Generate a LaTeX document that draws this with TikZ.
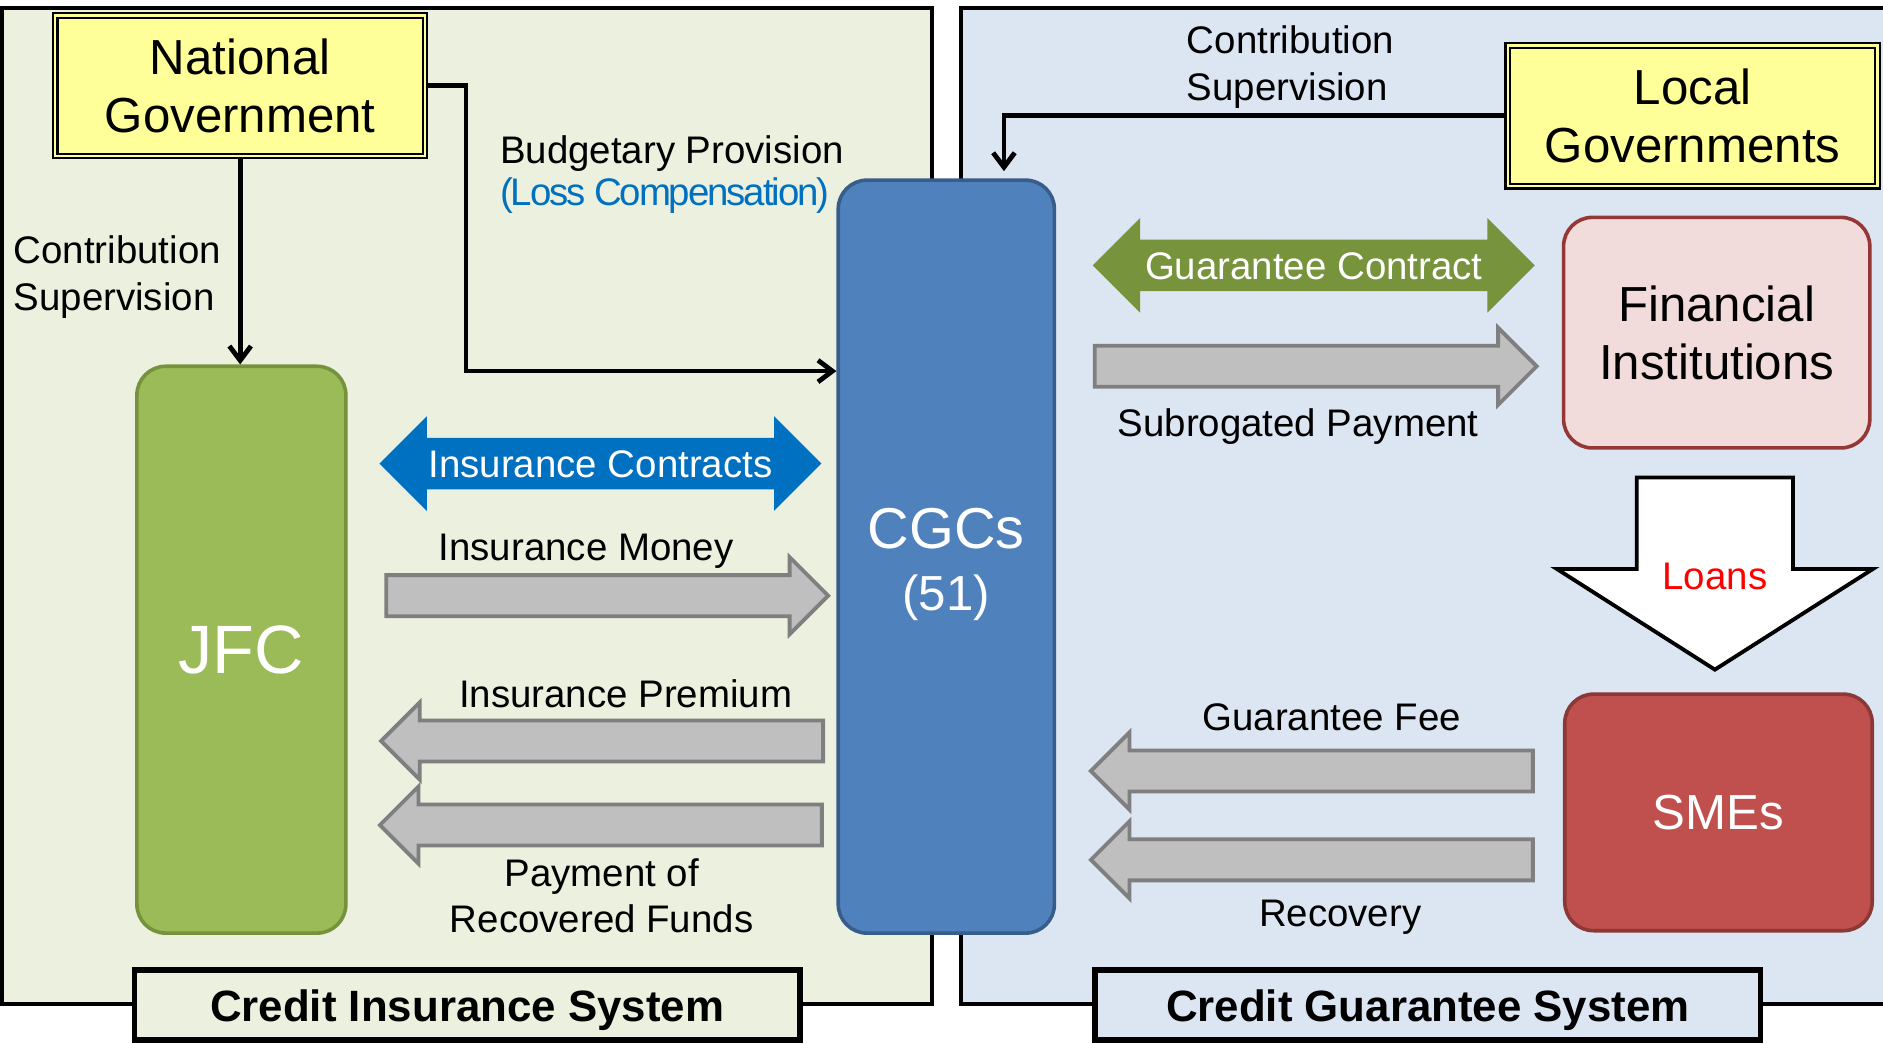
\documentclass[tikz,border=0pt]{standalone}
\usepackage{fontspec}
\setmainfont{Liberation Sans}
\usetikzlibrary{arrows.meta, shapes.arrows}

\definecolor{cisbg}{HTML}{EBF1DE}
\definecolor{cgsbg}{HTML}{DCE6F2}
\definecolor{govyellow}{HTML}{FFFF99}
\definecolor{jfcgreen}{HTML}{9BBB59}
\definecolor{jfcedge}{HTML}{76923C}
\definecolor{cgcblue}{HTML}{4F81BD}
\definecolor{cgcedge}{HTML}{385D8A}
\definecolor{finpink}{HTML}{F2DCDB}
\definecolor{finedge}{HTML}{953735}
\definecolor{smered}{HTML}{C0504D}
\definecolor{smeedge}{HTML}{8C3836}
\definecolor{insblue}{HTML}{0070C0}
\definecolor{guargreen}{HTML}{77933C}
\definecolor{flowgray}{HTML}{BFBFBF}
\definecolor{flowedge}{HTML}{7F7F7F}

\tikzset{
  lbl/.style={font=\fontsize{16}{19.5}\selectfont, align=center, inner sep=0pt},
  gov/.style={draw=black, double=govyellow, double distance=1pt, line width=0.9pt,
    fill=govyellow, minimum width=154pt, minimum height=58.5pt, align=center,
    inner sep=0pt, font=\fontsize{20.5}{24}\selectfont},
  entity/.style={rounded corners=12pt, line width=1.5pt, align=center, inner sep=0pt},
  conn/.style={line width=2pt, -{Straight Barb[length=6pt,width=9pt]}},
  flow/.style={single arrow, draw=flowedge, fill=flowgray, line width=1.6pt,
    inner xsep=0pt, inner ysep=7.75pt, text height=0pt, text depth=0pt,
    single arrow head extend=7.5pt, minimum height=184pt},
  contract/.style={double arrow, text=white, font=\fontsize{16}{19.5}\selectfont,
    inner xsep=0pt, inner ysep=4.75pt, text height=11.5pt, text depth=0pt,
    double arrow head extend=9pt, minimum height=184pt},
  sysbox/.style={draw=black, line width=2.4pt, minimum width=277pt, minimum height=29pt,
    inner sep=0pt, text depth=0pt, font=\bfseries\fontsize{18.25}{22}\selectfont}
}

\begin{document}
\begin{tikzpicture}[x=0.5pt, y=-0.5pt]
  \useasboundingbox (0,0) rectangle (1568,869);

  % Panels
  \draw[line width=1.6pt, fill=cisbg] (2,7) rectangle (776,836);
  \draw[line width=1.6pt, fill=cgsbg] (800,7) rectangle (1600,836);

  % Governments
  \node[gov] (natgov) at (200,71.5) {National\\Government};
  \node[gov] (locgov) at (1409.5,96.5) {Local\\Governments};

  % Institutions
  \node[entity, fill=jfcgreen, draw=jfcedge, text=white, minimum width=87pt,
    minimum height=236pt, font=\fontsize{28.5}{34}\selectfont] (jfc) at (201,541) {JFC};
  \node[entity, fill=cgcblue, draw=cgcedge, minimum width=90pt, minimum height=313.5pt]
    (cgc) at (788,463.5) {};
  \node[lbl, text=white, font=\fontsize{24}{26}\selectfont] (cgctxt) at (788,470)
    {CGCs\\\fontsize{20.5}{24}\selectfont(51)};
  \node[entity, fill=finpink, draw=finedge, minimum width=127.5pt, minimum height=96pt,
    font=\fontsize{20.5}{24}\selectfont] (fin) at (1429.5,277) {Financial\\Institutions};
  \node[entity, fill=smered, draw=smeedge, text=white, minimum width=128pt,
    minimum height=98.5pt, font=\fontsize{20.5}{24}\selectfont] (sme) at (1431,676.5) {SMEs};

  % Contribution and budget lines
  \draw[conn] (natgov.south) -- (natgov.south |- jfc.north);
  \coordinate (budget) at (388,309);
  \draw[conn] (natgov.east) -| (budget) -- (budget -| cgc.west);
  \draw[conn, shorten >=3pt] (locgov.west) -| ([xshift=24pt]cgc.north);

  \node[lbl, align=left, anchor=west] (natcontr) at (11,231) {Contribution\\Supervision};
  \node[lbl, align=left, anchor=west, font=\fontsize{16}{17.5}\selectfont] (budtxt) at (416,145.5)
    {Budgetary Provision\\\textcolor{insblue}{\addfontfeatures{LetterSpace=-5.5}(Loss Compensation)}};
  \node[lbl, align=left, anchor=west] (loccontr) at (988,55.5) {Contribution\\Supervision};

  % Credit insurance flows
  \node[contract, fill=insblue] (inscon) at (500,386) {Insurance Contracts};
  \node[flow, anchor=tail] (money) at (320,496) {};
  \node[flow, anchor=tail, shape border rotate=180] (premium) at (687,617) {};
  \node[flow, anchor=tail, shape border rotate=180] (refund) at (686,687) {};
  \node[lbl] (moneytxt) at (488,459) {Insurance Money};
  \node[lbl] (premtxt) at (521,578) {Insurance Premium};
  \node[lbl, font=\fontsize{16}{19}\selectfont] (refundtxt) at (501,746) {Payment of\\Recovered Funds};

  % Credit guarantee flows
  \node[contract, fill=guargreen] (guarcon) at (1094,221) {Guarantee Contract};
  \node[flow, anchor=tail] (subrog) at (910,305) {};
  \node[flow, anchor=tail, shape border rotate=180] (fee) at (1278,642) {};
  \node[flow, anchor=tail, shape border rotate=180] (recovery) at (1278,716) {};
  \node[lbl] (subrogtxt) at (1081,355) {Subrogated Payment};
  \node[lbl] (feetxt) at (1109,597) {Guarantee Fee};
  \node[lbl] (recovtxt) at (1116,764) {Recovery};

  % Loans
  \node[single arrow, shape border rotate=270, anchor=tail, draw=black, fill=white,
    line width=1.6pt, inner xsep=31.75pt, inner ysep=0pt, text height=0pt, text depth=0pt,
    single arrow head extend=33.25pt, single arrow tip angle=115, minimum height=80pt]
    (loans) at (1428,396) {};
  \node[lbl, text=red] (loanstxt) at (1428,480) {Loans};

  % System labels
  \node[sysbox, fill=cisbg] (cis) at (389,837) {Credit Insurance System};
  \node[sysbox, fill=cgsbg] (cgs) at (1189,837) {Credit Guarantee System};
\end{tikzpicture}
\end{document}
